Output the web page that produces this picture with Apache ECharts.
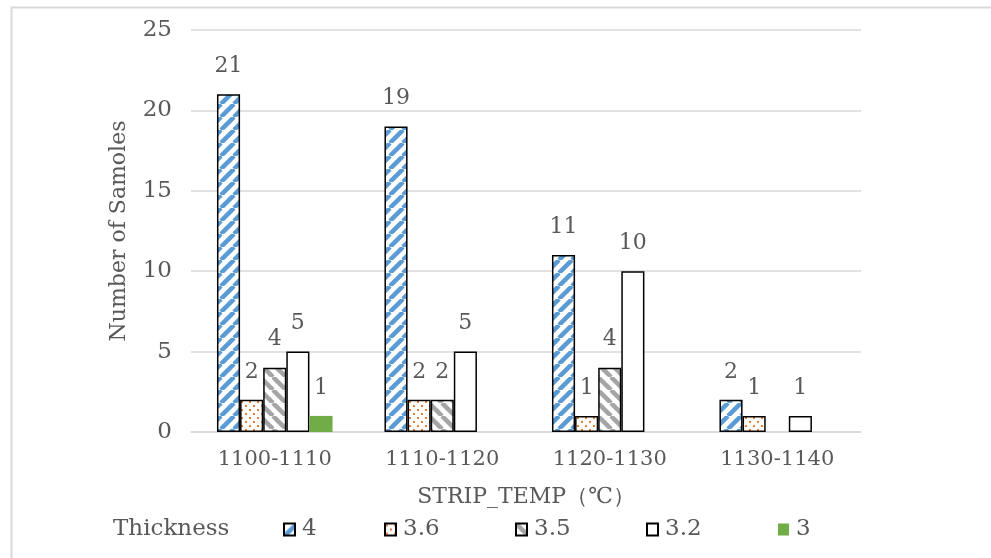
<!DOCTYPE html>
<html><head><meta charset="utf-8">
<script src="https://cdn.jsdelivr.net/npm/echarts@6/dist/echarts.min.js"></script>
<style>html,body{margin:0;padding:0;background:#fff}#c{width:991px;height:558px}</style>
</head><body><div id="c"></div>
<script>
const categories = ['1100-1110', '1110-1120', '1120-1130', '1130-1140'];
const seriesNames = ['4', '3.6', '3.5', '3.2', '3'];
const thick4 = [21, 19, 11, 2];
const thick36 = [2, 2, 1, 1];
const thick35 = [4, 2, 4, null];
const thick32 = [5, 5, 10, 1];
const thick3 = [1, null, null, null];
const yMin = 0, yMax = 25, yStep = 5;

const FONT = '"DejaVu Serif", serif';
const TXT = '#595959';

function stripeTile(color, dir, size, lw) {
  const c = document.createElement('canvas');
  c.width = c.height = size;
  const g = c.getContext('2d');
  g.fillStyle = '#fff'; g.fillRect(0, 0, size, size);
  g.strokeStyle = color; g.lineWidth = lw;
  g.beginPath();
  for (let k = -1; k <= 1; k++) {
    if (dir === '/') { g.moveTo(k * size, size); g.lineTo(k * size + size, 0); }
    else { g.moveTo(k * size, 0); g.lineTo(k * size + size, size); }
  }
  g.stroke();
  return c;
}
function dotTile(color) {
  const c = document.createElement('canvas');
  c.width = c.height = 8;
  const g = c.getContext('2d');
  g.fillStyle = '#fff'; g.fillRect(0, 0, 8, 8);
  g.fillStyle = color;
  g.fillRect(1, 1, 2, 2); g.fillRect(5, 5, 2, 2);
  return c;
}
const pat4 = { image: stripeTile('#5B9BD5', '/', 13, 4.5), repeat: 'repeat' };
const pat36 = { image: dotTile('#ED7D31'), repeat: 'repeat' };
const pat35 = { image: stripeTile('#A5A5A5', '\\', 13, 4.5), repeat: 'repeat' };

const dataSets = [thick4, thick36, thick35, thick32, thick3];
const styles = [
  { color: pat4, borderColor: '#000', borderWidth: 1.5 },
  { color: pat36, borderColor: '#000', borderWidth: 1.5 },
  { color: pat35, borderColor: '#000', borderWidth: 1.5 },
  { color: '#FFFFFF', borderColor: '#000', borderWidth: 1.5 },
  { color: '#70AD47', borderWidth: 0 }
];

const series = seriesNames.map((n, i) => ({
  name: n, type: 'bar', data: dataSets[i],
  barGap: '0%', barCategoryGap: '31%',
  itemStyle: styles[i],
  label: { show: true, position: 'top', distance: 17, color: TXT, fontFamily: FONT, fontSize: 22,
           formatter: p => (p.value == null ? '' : p.value) }
}));

const legendLefts = [283, 384, 515, 646, 778];
const legends = seriesNames.map((n, i) => ({
  data: [n], left: legendLefts[i], top: 518, padding: 0, itemWidth: 11, itemHeight: 12, itemGap: 6,
  icon: 'rect',
  textStyle: { color: TXT, fontFamily: FONT, fontSize: 23, padding: [0, 0, 0, 2] }
}));

const chart = echarts.init(document.getElementById('c'));
chart.setOption({
  backgroundColor: '#fff',
  animation: false,
  title: { text: 'Thickness', left: 113, top: 518, padding: 0,
           textStyle: { color: TXT, fontFamily: FONT, fontSize: 23, fontWeight: 'normal' } },
  graphic: [{ type: 'rect', shape: { x: 11.5, y: 7.5, width: 1100, height: 700 },
              style: { fill: 'none', stroke: '#D9D9D9', lineWidth: 2 }, silent: true }],
  legend: legends,
  grid: { left: 191, right: 130, top: 30, bottom: 126, containLabel: false },
  xAxis: {
    type: 'category', data: categories,
    name: 'STRIP_TEMP（℃）', nameLocation: 'middle', nameGap: 54,
    nameTextStyle: { color: TXT, fontFamily: FONT, fontSize: 22 },
    axisLine: { lineStyle: { color: '#D9D9D9', width: 1.5 } },
    axisTick: { show: false },
    axisLabel: { color: TXT, fontFamily: FONT, fontSize: 21, margin: 17 }
  },
  yAxis: {
    type: 'value', min: yMin, max: yMax, interval: yStep,
    name: 'Number of Samoles', nameLocation: 'middle', nameGap: 61, nameRotate: 90,
    nameTextStyle: { color: TXT, fontFamily: FONT, fontSize: 22 },
    axisLine: { show: false }, axisTick: { show: false },
    splitLine: { lineStyle: { color: '#D9D9D9', width: 1.5 } },
    axisLabel: { color: TXT, fontFamily: FONT, fontSize: 23, margin: 19 }
  },
  series: series
});
</script></body></html>
